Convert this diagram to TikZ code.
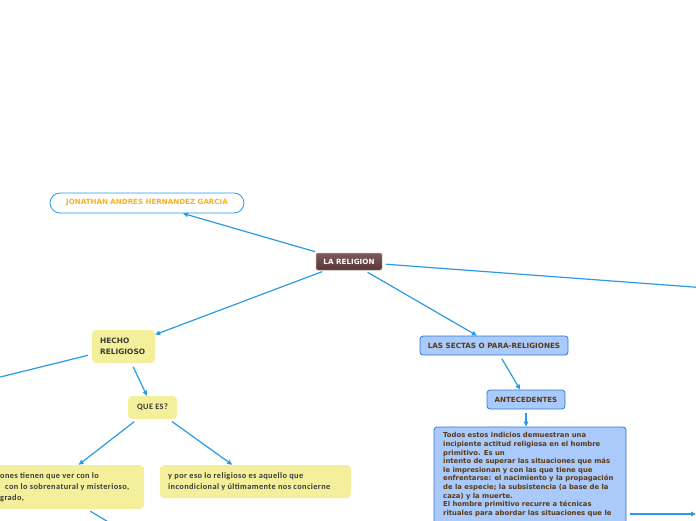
\documentclass[tikz,border=0pt]{standalone}
\usepackage{fontspec}
\setmainfont{DejaVu Sans}
\newfontfamily\yfont[LetterSpace=5]{Carlito}
\usetikzlibrary{arrows.meta}
\definecolor{linkblue}{HTML}{2A9BE2}
\definecolor{ybox}{HTML}{F3EF9B}
\definecolor{bbox}{HTML}{A9CAFA}
\definecolor{bborder}{HTML}{2F76DA}
\definecolor{btext}{HTML}{5A3812}
\definecolor{rtop}{HTML}{7E5B5B}
\definecolor{rbot}{HTML}{573636}
\definecolor{orangetext}{HTML}{F4B223}
\definecolor{ytext}{HTML}{3A3A3A}
\tikzset{
  link/.style={draw=linkblue, line width=1.2pt, shorten <=4pt, -{Triangle[length=5pt,width=4.5pt]}},
  freelink/.style={draw=linkblue, line width=1.2pt, shorten <=4pt},
  ynode/.style={fill=ybox, draw=none, rounded corners=4pt, inner sep=0pt},
  bnode/.style={fill=bbox, draw=bborder, line width=0.8pt, rounded corners=3pt, inner sep=0pt,
     font=\fontsize{7.1}{8}\selectfont\bfseries, text=btext},
  ytxt/.style={inner sep=0pt, align=left, text=ytext, font=\yfont\fontsize{8.3}{11}\selectfont\bfseries},
}
\begin{document}
\begin{tikzpicture}[x=1pt,y=-1pt]
\useasboundingbox (0,0) rectangle (696,520);
\clip (0,0) rectangle (696,520);
% nodes
\node[draw=linkblue, line width=0.8pt, fill=white, rounded corners=10pt, minimum width=194pt, minimum height=20pt, inner sep=0pt,
  font=\fontsize{7.1}{8}\selectfont\bfseries, text=orangetext] (jon) at (147,203) {JONATHAN ANDRES HERNANDEZ GARCIA};
\node[top color=rtop, bottom color=rbot, draw=rtop!60!white, line width=0.5pt, rounded corners=2pt, minimum width=66pt, minimum height=17pt, inner sep=0pt,
  font=\fontsize{7.2}{8}\selectfont\bfseries, text=white] (rel) at (349,261.5) {LA RELIGION};
\node[ynode, minimum width=63pt, minimum height=33pt] (hecho) at (123.5,346.5) {};
\node[anchor=west, inner sep=0pt, align=left, text=ytext, font=\fontsize{7.4}{11}\selectfont\bfseries] (hechot) at (100,346.5) {HECHO\\RELIGIOSO};
\node[ynode, minimum width=49pt, minimum height=23pt, font=\yfont\fontsize{8.3}{9}\selectfont\bfseries, text=ytext] (que) at (152.5,407.5) {QUE ES?};
\node[ynode, minimum width=188pt, minimum height=44pt] (lbox) at (50,487) {};
\node[ytxt, anchor=north west] (ltext) at (0,472) {ones tienen que ver con lo\\\hspace*{5pt}con lo sobrenatural y misterioso,\\grado,};
\node[ynode, minimum width=191pt, minimum height=33pt] (rbox) at (255.5,481.5) {};
\node[ytxt, anchor=west] (rtext) at (168,481.5) {y por eso lo religioso es aquello que\\incondicional y últimamente nos concierne};
\node[bnode, minimum width=148pt, minimum height=19pt, font=\fontsize{7.2}{8}\selectfont\bfseries] (sect) at (494,345.5) {LAS SECTAS O PARA-RELIGIONES};
\node[bnode, minimum width=78pt, minimum height=19pt] (ante) at (526,399.5) {ANTECEDENTES};
\node[bnode, minimum width=192pt, minimum height=130pt] (big) at (530,492) {};
\node[anchor=north west, inner sep=0pt, align=left, text=btext, font=\fontsize{6.85}{8.6}\selectfont\bfseries] (bigt) at (443,432.5) {Todos estos indicios demuestran una\\
incipiente actitud religiosa en el hombre\\
primitivo. Es un\\
intento de superar las situaciones que más\\
le impresionan y con las que tiene que\\
enfrentarse: el nacimiento y la propagación\\
de la especie; la subsistencia (a base de la\\
caza) y la muerte.\\
El hombre primitivo recurre a técnicas\\
rituales para abordar las situaciones que le};
% free ends
\coordinate (lft) at (-20,382);
\coordinate (rt1) at (720,289);
\coordinate (rt2) at (696,514);
\coordinate (dn) at (140,541);
% connectors
\draw[link] (rel) -- (jon);
\draw[link] (rel) -- (hecho);
\draw[link] (rel) -- (sect);
\draw[freelink] (rel) -- (rt1);
\draw[freelink] (hecho) -- (lft);
\draw[link] (hecho) -- (que);
\draw[link] (que) -- (lbox);
\draw[link] (que) -- (rbox);
\draw[freelink] (lbox) -- (dn);
\draw[link] (sect) -- (ante);
\draw[link] (ante) -- (ante |- big.north);
\draw[link] (big.east |- rt2) -- (rt2);
\end{tikzpicture}
\end{document}
